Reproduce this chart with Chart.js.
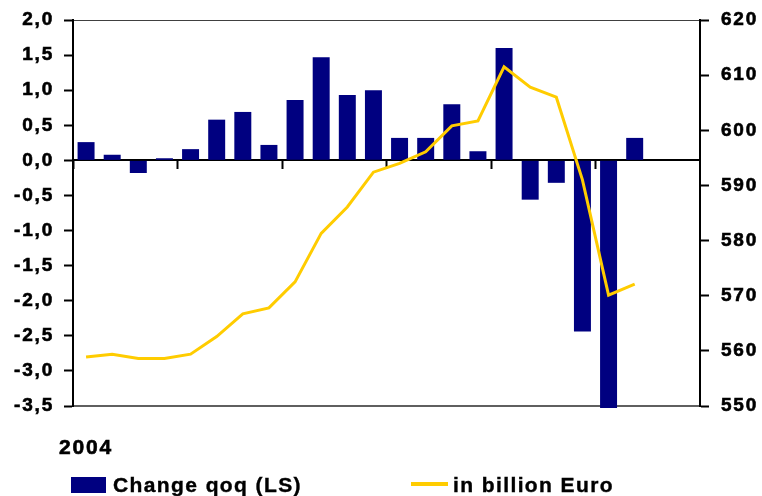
<!DOCTYPE html>
<html>
<head>
<meta charset="utf-8">
<script src="https://cdn.jsdelivr.net/npm/chart.js@4.4.1/dist/chart.umd.min.js"></script>
<style>
  body { margin: 0; background: #fff; }
  #wrap { position: relative; width: 762px; height: 496px; }
  .legend-text {
    position: absolute;
    top: 474px;
    font: bold 21px 'Liberation Sans', Arial, sans-serif;
    line-height: 21px;
    letter-spacing: 1.4px;
    color: #000;
    white-space: nowrap;
    -webkit-text-stroke: 0.4px #000;
  }
  .swatch { position: absolute; }
</style>
</head>
<body>
<div id="wrap">
  <canvas id="chart"></canvas>
  <div class="swatch" style="left:71px;top:477px;width:35px;height:16px;background:#000080"></div>
  <div class="legend-text" style="left:113px">Change qoq (LS)</div>
  <div class="swatch" style="left:411px;top:482px;width:37px;height:4px;background:#ffcc00"></div>
  <div class="legend-text" style="left:453px">in billion Euro</div>
</div>
<script>
const quarters = [
  '2004Q1', '2004Q2', '2004Q3', '2004Q4',
  '2005Q1', '2005Q2', '2005Q3', '2005Q4',
  '2006Q1', '2006Q2', '2006Q3', '2006Q4',
  '2007Q1', '2007Q2', '2007Q3', '2007Q4',
  '2008Q1', '2008Q2', '2008Q3', '2008Q4',
  '2009Q1', '2009Q2', '2009Q3', '2009Q4',
];

// change qoq in %, left scale
const changeQoq = [
  0.26, 0.08, -0.18, 0.03, 0.16, 0.58, 0.69, 0.22,
  0.86, 1.47, 0.93, 1.00, 0.32, 0.32, 0.80, 0.13,
  1.60, -0.56, -0.32, -2.44, -3.53, 0.32, null, null,
];

// level in billion Euro, right scale
const levelBn = [
  558.9, 559.4, 558.6, 558.6, 559.4, 562.6, 566.7, 567.8,
  572.5, 581.3, 586.1, 592.4, 594.0, 596.1, 600.8, 601.7,
  611.5, 607.8, 606.0, 591.0, 570.1, 572.1, null, null,
];

const shownYears = ['2004'];
const leftRange = [-3.5, 2.0];
const rightRange = [550, 620];

const FONT = "'Liberation Sans', Arial, sans-serif";

const letterSpacing = {
  id: 'letterSpacing',
  beforeDraw: (chart) => {
    chart.ctx.letterSpacing = '1.8px';
  },
};

const tickFont = (size) => ({
  color: '#000',
  textStrokeColor: '#000',
  textStrokeWidth: 0.6,
  font: { family: FONT, size, weight: 'bold' },
});

// fixed side widths so the plot sits where the original one does
const fixWidth = (width) => (scale) => {
  scale.width = width;
  scale.paddingTop = 0;
  scale.paddingBottom = 0;
};

new Chart(document.getElementById('chart'), {
  data: {
    labels: quarters,
    datasets: [
      {
        type: 'line',
        label: 'in billion Euro',
        data: levelBn,
        yAxisID: 'y2',
        borderColor: '#ffcc00',
        borderWidth: 3,
        pointRadius: 0,
        tension: 0,
        order: 0,
      },
      {
        type: 'bar',
        label: 'Change qoq (LS)',
        data: changeQoq,
        yAxisID: 'y',
        backgroundColor: '#000080',
        categoryPercentage: 1,
        barPercentage: 0.65,
        clip: false,
        order: 1,
      },
    ],
  },
  options: {
    responsive: true,
    maintainAspectRatio: false,
    animation: false,
    layout: { padding: { top: 20, bottom: 0, left: 0, right: 0 } },
    plugins: {
      legend: { display: false },
      tooltip: { enabled: false },
    },
    scales: {
      x: {
        position: 'bottom',
        offset: true,
        grid: { display: false },
        border: { color: '#5f5f5f', width: 2 },
        ticks: {
          ...tickFont(21),
          autoSkip: false,
          maxRotation: 0,
          padding: 22,
          callback: (value, index) => (index % 4 === 0 ? shownYears[index / 4] || '' : ''),
        },
        afterFit: (scale) => {
          scale.height = 90;
          scale.paddingLeft = 0;
          scale.paddingRight = 0;
        },
      },
      x2: {
        axis: 'x',
        type: 'category',
        position: { y: 0 },
        offset: true,
        grid: {
          offset: true,
          drawOnChartArea: false,
          drawTicks: true,
          tickLength: 8,
          tickWidth: 2,
          tickColor: (ctx) => (ctx.index % 4 === 0 ? '#000' : 'rgba(0,0,0,0)'),
        },
        border: { color: '#000', width: 2 },
        ticks: { display: false },
      },
      y: {
        position: 'left',
        min: leftRange[0],
        max: leftRange[1],
        ticks: {
          ...tickFont(19),
          stepSize: 0.5,
          padding: 10,
          callback: (value) => value.toFixed(1).replace('.', ','),
        },
        grid: {
          color: (ctx) => (ctx.tick && ctx.tick.value === leftRange[1] ? '#404040' : 'rgba(0,0,0,0)'),
          lineWidth: 1,
          tickColor: '#000',
          tickWidth: 2,
          tickLength: 9,
        },
        border: { color: '#000', width: 2 },
        afterFit: fixWidth(73),
      },
      y2: {
        position: 'right',
        min: rightRange[0],
        max: rightRange[1],
        ticks: {
          ...tickFont(19),
          stepSize: 10,
          padding: 12,
        },
        grid: {
          drawOnChartArea: false,
          tickColor: '#000',
          tickWidth: 2,
          tickLength: 9,
        },
        border: { color: '#000', width: 2 },
        afterFit: fixWidth(62),
      },
    },
  },
  plugins: [letterSpacing],
});
</script>
</body>
</html>
